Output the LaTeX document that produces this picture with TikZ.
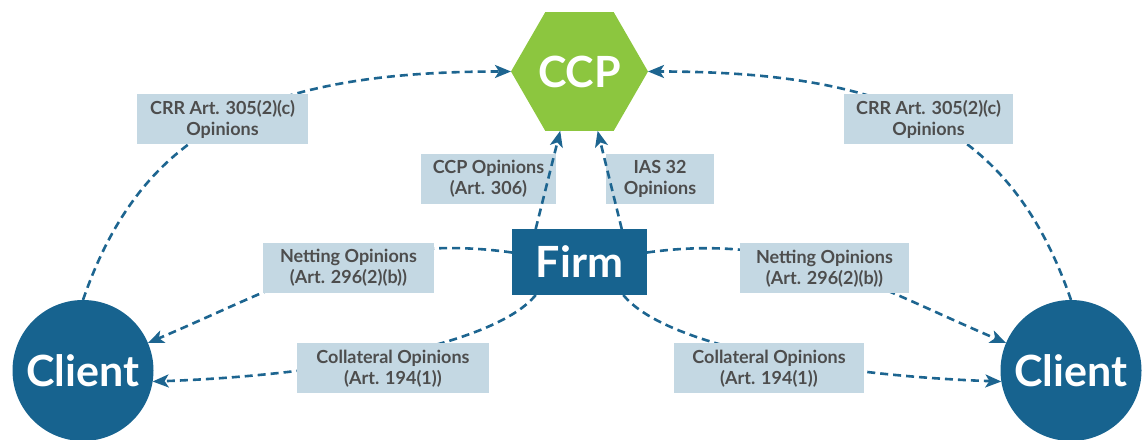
\documentclass[tikz,border=0pt]{standalone}
\usepackage{fontspec}
\setmainfont{Lato}
\usetikzlibrary{shapes,arrows.meta,positioning,backgrounds}
\definecolor{firmblue}{HTML}{17638F}
\definecolor{ccpgreen}{HTML}{8CC63F}
\definecolor{boxblue}{HTML}{C4D8E3}
\definecolor{boxtext}{HTML}{4D4D4D}
\definecolor{linkblue}{HTML}{1D6590}

\begin{document}
\begin{tikzpicture}[->,>={Stealth[length=16pt,width=13pt,inset=4pt]},on grid]
\tikzstyle{party}=[text=white,font=\bfseries\fontsize{43}{50}\selectfont,inner sep=0pt,outer sep=0pt]
\tikzstyle{opinion}=[fill=boxblue,text=boxtext,font=\bfseries\fontsize{18}{21}\selectfont,align=center,inner sep=0pt,minimum height=50pt]
\tikzstyle{link}=[draw=linkblue,line width=2.6pt,dash pattern=on 8pt off 5pt]
\useasboundingbox (0,0) rectangle (1148pt,439pt);
\node[party,rectangle,fill=firmblue,minimum width=135pt,minimum height=66pt] (Firm) at (579.5pt,177pt) {Firm};
\node[party,regular polygon,regular polygon sides=6,fill=ccpgreen,minimum size=137pt][above=190.5pt of Firm] (CCP) {CCP};
\node[party,circle,fill=firmblue,minimum size=141pt][below left=108.5pt and 496.5pt of Firm] (CL) {Client};
\node[party,circle,fill=firmblue,minimum size=141pt][below right=108.5pt and 491.5pt of Firm] (CR) {Client};
\node[opinion,minimum width=171pt][above left=142.5pt and 357pt of Firm] (CRRL) {CRR Art. 305(2)(c)\\Opinions};
\node[opinion,minimum width=169pt][above right=142.5pt and 349pt of Firm] (CRRR) {CRR Art. 305(2)(c)\\Opinions};
\node[opinion,minimum width=135pt][above left=83pt and 91pt of Firm] (CCPO) {CCP Opinions\\(Art. 306)};
\node[opinion,minimum width=108pt][above right=83pt and 80.5pt of Firm] (IAS) {IAS 32\\Opinions};
\node[opinion,minimum width=171pt][below left=6pt and 231pt of Firm] (NETL) {Netting Opinions\\(Art. 296(2)(b))};
\node[opinion,minimum width=169pt][below right=6.5pt and 245pt of Firm] (NETR) {Netting Opinions\\(Art. 296(2)(b))};
\node[opinion,minimum width=192pt][below left=106.5pt and 186.5pt of Firm] (COLL) {Collateral Opinions\\(Art. 194(1))};
\node[opinion,minimum width=190pt][below right=106.5pt and 189.5pt of Firm] (COLR) {Collateral Opinions\\(Art. 194(1))};
\begin{scope}[on background layer]
\path (CL.north) edge[link,out=71,in=180,out distance=180pt,in distance=250pt] (CCP.west)
      (CR.north) edge[link,out=109,in=0,out distance=180pt,in distance=250pt] (CCP.east)
      (Firm.172) edge[link,out=172,in=23] (CL.23)
      (Firm.8) edge[link,out=8,in=157] (CR.157)
      (Firm.217) edge[link,out=231,in=2,out distance=64pt,in distance=175pt] (CL.-9)
      (Firm.-37) edge[link,out=-51,in=178,out distance=64pt,in distance=175pt] (CR.189);
\end{scope}
\path (Firm.143) edge[link] (CCP.252)
      (Firm.38) edge[link] (CCP.-73);
\end{tikzpicture}
\end{document}
